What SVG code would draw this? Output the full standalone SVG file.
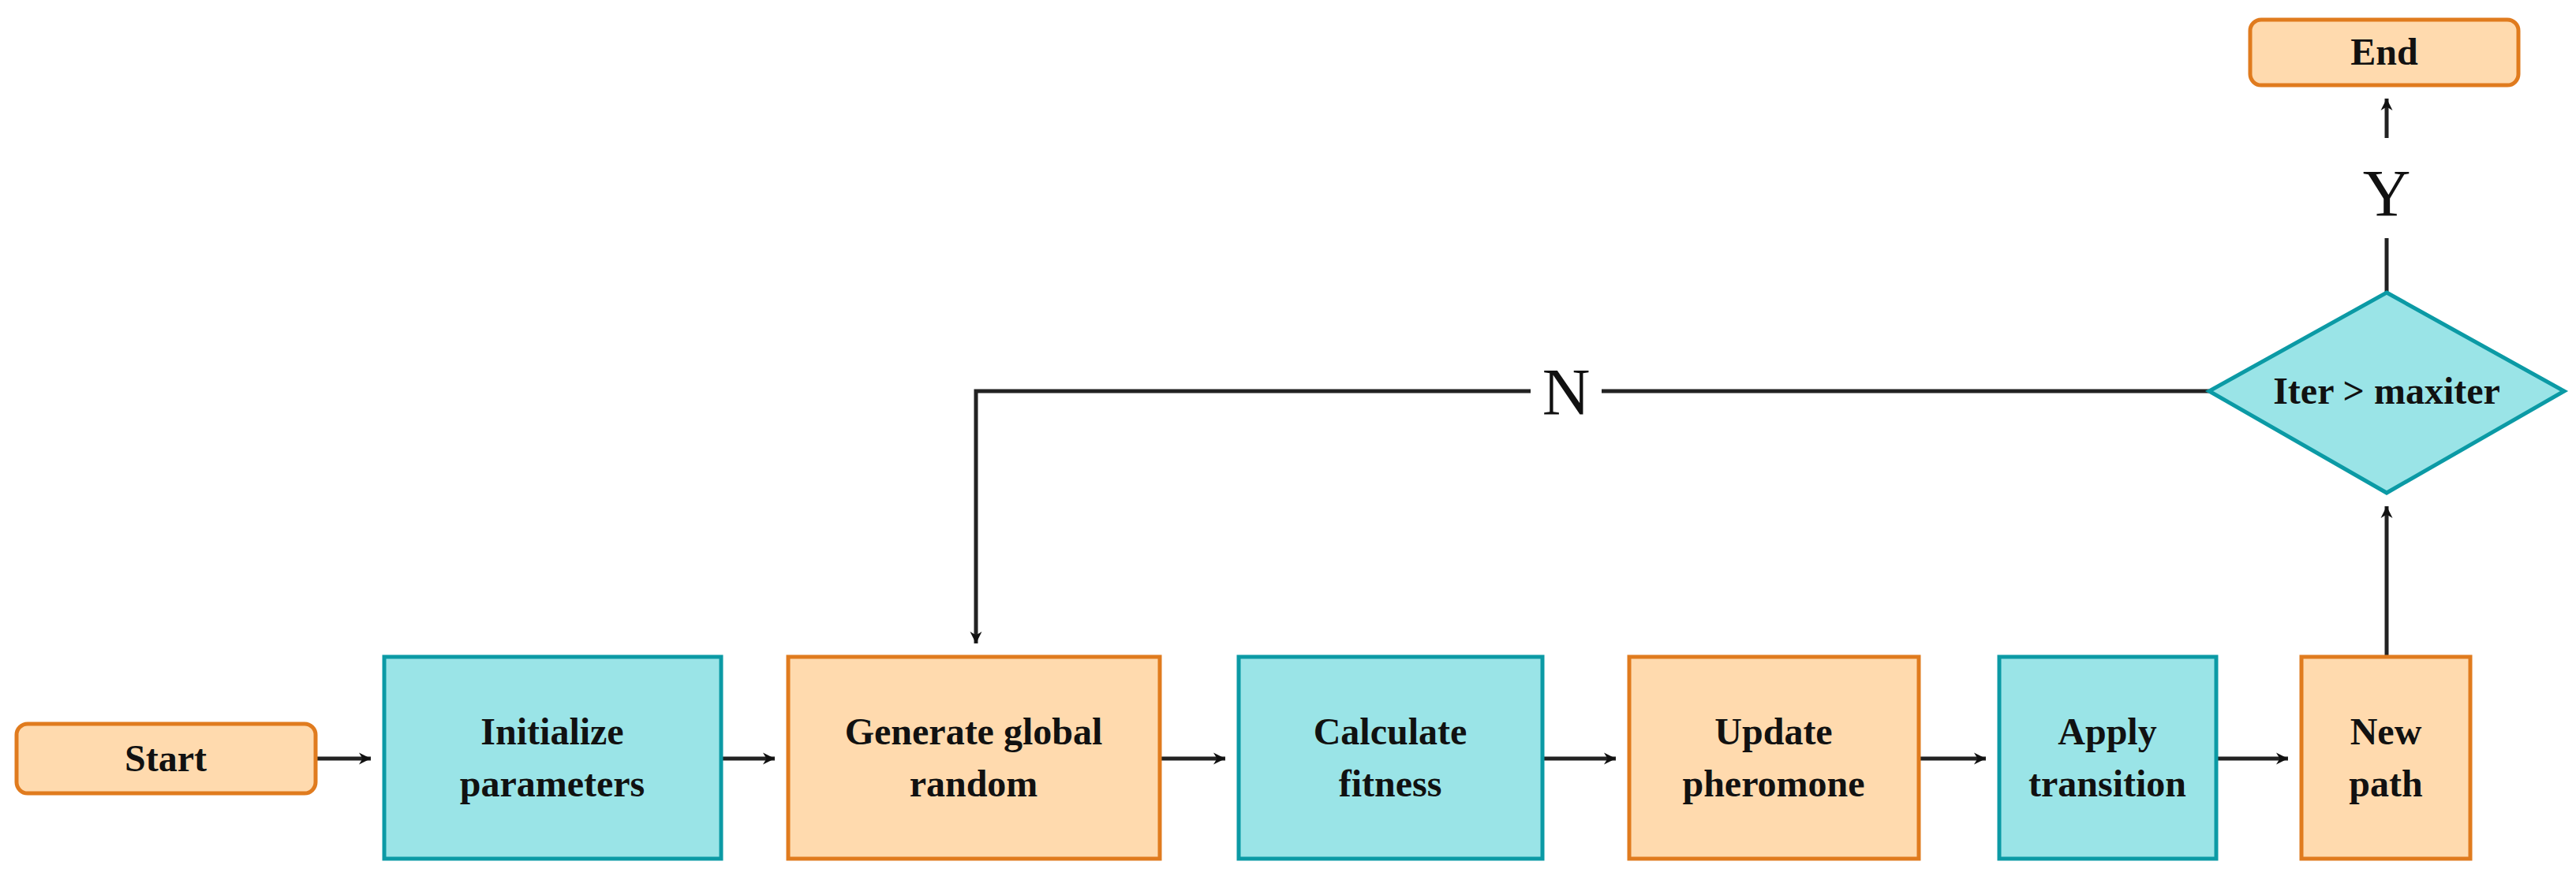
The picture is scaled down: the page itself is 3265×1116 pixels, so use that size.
<svg xmlns="http://www.w3.org/2000/svg" width="3265" height="1116" viewBox="0 0 3265 1116">
<style>
.c{fill:#9AE4E7;stroke:#0B9AA5;stroke-width:5}
.o{fill:#FFDAAE;stroke:#E07B1E;stroke-width:5}
.t{font-family:"Liberation Serif",serif;font-weight:bold;font-size:48px;text-anchor:middle;fill:#111}
.l{font-family:"Liberation Serif",serif;font-size:84px;text-anchor:middle;fill:#111}
.e{fill:none;stroke:#222;stroke-width:5}
</style>
<defs><marker id="a" viewBox="0 0 10 10" refX="9" refY="5" markerWidth="5" markerHeight="5" orient="auto" markerUnits="userSpaceOnUse" style="overflow:visible"><path d="M0,0 L10,5 L0,10 L3,5 Z" fill="#111" transform="scale(3) translate(-7,-3.33)"/></marker></defs>
<rect width="3265" height="1116" fill="#fff"/>
<g id="connectors">
<path class="e" d="M400 962 H470" marker-end="url(#a)"/>
<path class="e" d="M914 962 H982" marker-end="url(#a)"/>
<path class="e" d="M1470 962 H1553" marker-end="url(#a)"/>
<path class="e" d="M1955 962 H2048" marker-end="url(#a)"/>
<path class="e" d="M2432 962 H2517" marker-end="url(#a)"/>
<path class="e" d="M2809 962 H2900" marker-end="url(#a)"/>
<path class="e" d="M3025 833 V642" marker-end="url(#a)"/>
<path class="e" d="M2800 496 H2030 M1940 496 H1237 V816" marker-end="url(#a)"/>
<path class="e" d="M3025 371 V302"/>
<path class="e" d="M3025 175 V125" marker-end="url(#a)"/>
<text class="l" x="1985" y="526">N</text>
<text class="l" x="3025" y="274">Y</text>
</g>
<g id="start"><rect class="o" x="21" y="918" width="379" height="88" rx="14"/><text class="t" x="210" y="978">Start</text></g>
<g id="init"><rect class="c" x="487" y="833" width="427" height="256"/><text class="t" x="700" y="944">Initialize</text><text class="t" x="700" y="1010">parameters</text></g>
<g id="gen"><rect class="o" x="999" y="833" width="471" height="256"/><text class="t" x="1234" y="944">Generate global</text><text class="t" x="1234" y="1010">random</text></g>
<g id="calc"><rect class="c" x="1570" y="833" width="385" height="256"/><text class="t" x="1762" y="944">Calculate</text><text class="t" x="1762" y="1010">fitness</text></g>
<g id="upd"><rect class="o" x="2065" y="833" width="367" height="256"/><text class="t" x="2248" y="944">Update</text><text class="t" x="2248" y="1010">pheromone</text></g>
<g id="apply"><rect class="c" x="2534" y="833" width="275" height="256"/><text class="t" x="2671" y="944">Apply</text><text class="t" x="2671" y="1010">transition</text></g>
<g id="newpath"><rect class="o" x="2917" y="833" width="214" height="256"/><text class="t" x="3024" y="944">New</text><text class="t" x="3024" y="1010">path</text></g>
<g id="decision"><polygon class="c" points="3025,371 3250,496 3025,625 2800,496"/><text class="t" x="3025" y="512">Iter &gt; maxiter</text></g>
<g id="end"><rect class="o" x="2852" y="25" width="340" height="83" rx="14"/><text class="t" x="3022" y="82">End</text></g>
</svg>
